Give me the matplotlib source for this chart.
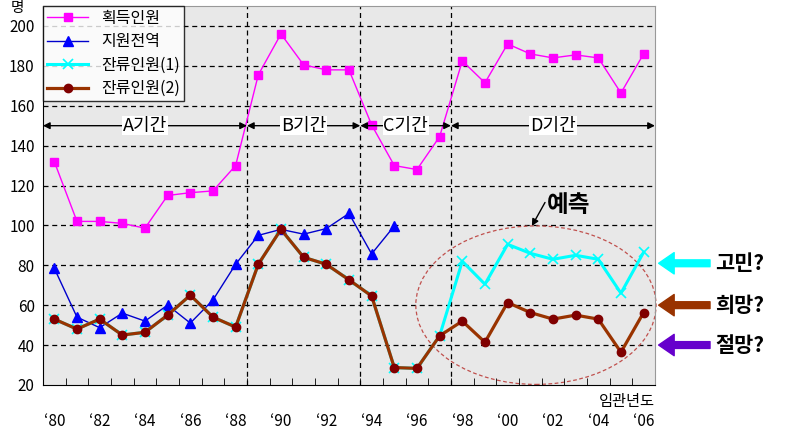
from matplotlib import pyplot as plt
from matplotlib.patches import Ellipse
import numpy as np

plt.rcParams['font.family'] = ['Noto Sans CJK KR', 'DejaVu Sans']

years = list(range(1980, 2007))
tick_labels = ["‘80", "‘82", "‘84", "‘86", "‘88", "‘90", "‘92",
               "‘94", "‘96", "‘98", "‘00", "‘02", "‘04", "‘06"]

# 획득인원
gained = [132, 102, 102, 101, 98.6, 115, 116.4, 117.3, 130, 175.5, 196, 180.5, 178, 178,
          150.4, 130, 128, 144.5, 182.5, 171.5, 191, 186, 184, 185.5, 184, 166.4, 186]
# 지원전역 (1980~1995)
volunteer = [78.5, 54, 48.7, 56, 52, 60, 51, 62.6, 80.5, 95, 98, 95.6, 98.4, 106, 85.7, 99.7]
# 잔류인원(1) : 1997 까지는 (2)와 같음, 이후 예측
remain1 = [53, 48, 53, 45, 46.4, 55, 65, 54, 49, 80.5, 98, 84, 80.5, 72.7, 64.6, 28.7, 28.3,
           44.6, 82, 70.5, 90.5, 86, 83, 85, 83, 66, 86.5]
# 잔류인원(2)
remain2 = [53, 48, 53, 45, 46.4, 55, 65, 54, 49, 80.5, 98, 84, 80.5, 72.7, 64.6, 28.7, 28.3,
           44.6, 52, 41.4, 61.3, 56.3, 53, 55, 53, 36.4, 56.3]

periods = ["A기간", "B기간", "C기간", "D기간"]
period_bounds = [-0.5, 8.5, 13.5, 17.5, 26.5]

side_labels = ["고민?", "희망?", "절망?"]
side_values = [81, 60, 40]
side_colors = ["#00FFFF", "#993300", "#6600CC"]

x = np.arange(len(years))

fig = plt.figure(figsize=(7.87, 4.32), dpi=100)
ax = fig.add_axes([0.0546, 0.109, 0.7776, 0.877])
ax.set_facecolor('#E8E8E8')

ax.plot(x, gained, color='#FF00FF', lw=1, marker='s', ms=6, label='획득인원')
ax.plot(x[:len(volunteer)], volunteer, color='#0000CC', lw=1, marker='^', ms=7,
        markerfacecolor='#0000FF', markeredgecolor='#0000FF', label='지원전역')
ax.plot(x, remain1, color='#00FFFF', lw=2.2, marker='x', ms=7, mew=1.2, label='잔류인원(1)')
ax.plot(x, remain2, color='#993300', lw=2.3, marker='o', ms=6,
        markerfacecolor='#800000', markeredgecolor='#800000', label='잔류인원(2)')

ax.set_xlim(-0.5, 26.5)
ax.set_ylim(20, 210)

# grid
for v in range(40, 201, 20):
    ax.axhline(v, color='black', ls=(0, (4, 3)), lw=0.9, zorder=0.5)
for b in period_bounds[1:-1]:
    ax.axvline(b, color='black', ls=(0, (4, 3)), lw=0.9, zorder=0.5)

# period arrows
for i, name in enumerate(periods):
    a, b = period_bounds[i], period_bounds[i + 1]
    ax.annotate('', xy=(a, 150), xytext=(b, 150),
                arrowprops=dict(arrowstyle='<|-|>', color='black', lw=1,
                                mutation_scale=10, shrinkA=0, shrinkB=0))
    ax.text((a + b) / 2, 150, name, ha='center', va='center', fontsize=13,
            bbox=dict(facecolor='white', edgecolor='none', pad=0.5))

# prediction ellipse
ell = Ellipse((21.25, 60), 10.6, 79.5, fill=False, edgecolor='#C0504D',
              ls=(0, (3, 2)), lw=0.9, clip_on=False)
ax.add_patch(ell)
ax.annotate('', xy=(21.07, 99.7), xytext=(21.65, 111.5),
            arrowprops=dict(arrowstyle='-|>', color='black', lw=1, mutation_scale=10,
                            shrinkA=0, shrinkB=0))
ax.text(21.75, 110, '예측', fontsize=17, fontweight='bold', ha='left', va='center')

# right side labels
trans = ax.get_yaxis_transform()
for lab, v, c in zip(side_labels, side_values, side_colors):
    ax.annotate('', xy=(1.006, v), xytext=(1.09, v), xycoords=trans, textcoords=trans,
                arrowprops=dict(arrowstyle='simple,head_length=0.8,head_width=1.1,tail_width=0.35',
                                facecolor=c, edgecolor=c, mutation_scale=14,
                                shrinkA=0, shrinkB=0), annotation_clip=False)
    ax.text(1.098, v, lab, transform=trans, fontsize=15, fontweight='bold',
            ha='left', va='center')

# axes
ax.set_yticks(range(20, 201, 20))
ax.tick_params(axis='y', length=0, labelsize=11, pad=6)
ax.set_xticks(x[::2])
ax.set_xticklabels(tick_labels)
ax.tick_params(axis='x', which='major', length=0, labelsize=11, pad=20)
ax.set_xticks(np.arange(0.5, 26, 1), minor=True)
ax.tick_params(axis='x', which='minor', direction='in', length=5, color='black')
for s in ['top', 'right']:
    ax.spines[s].set_color('#999999')
ax.text(-1.65, 209, '명', fontsize=10.5, ha='center', va='center', clip_on=False)
ax.text(1.0, -0.022, '임관년도', transform=ax.transAxes, fontsize=11, ha='right', va='top')

leg = ax.legend(loc='upper left', fontsize=11.5, handlelength=2.6, frameon=True,
                fancybox=False, borderaxespad=0, labelspacing=0.4, borderpad=0.25)
leg.get_frame().set_edgecolor('black')
leg.get_frame().set_linewidth(1)

plt.savefig('out.png', dpi=100)
